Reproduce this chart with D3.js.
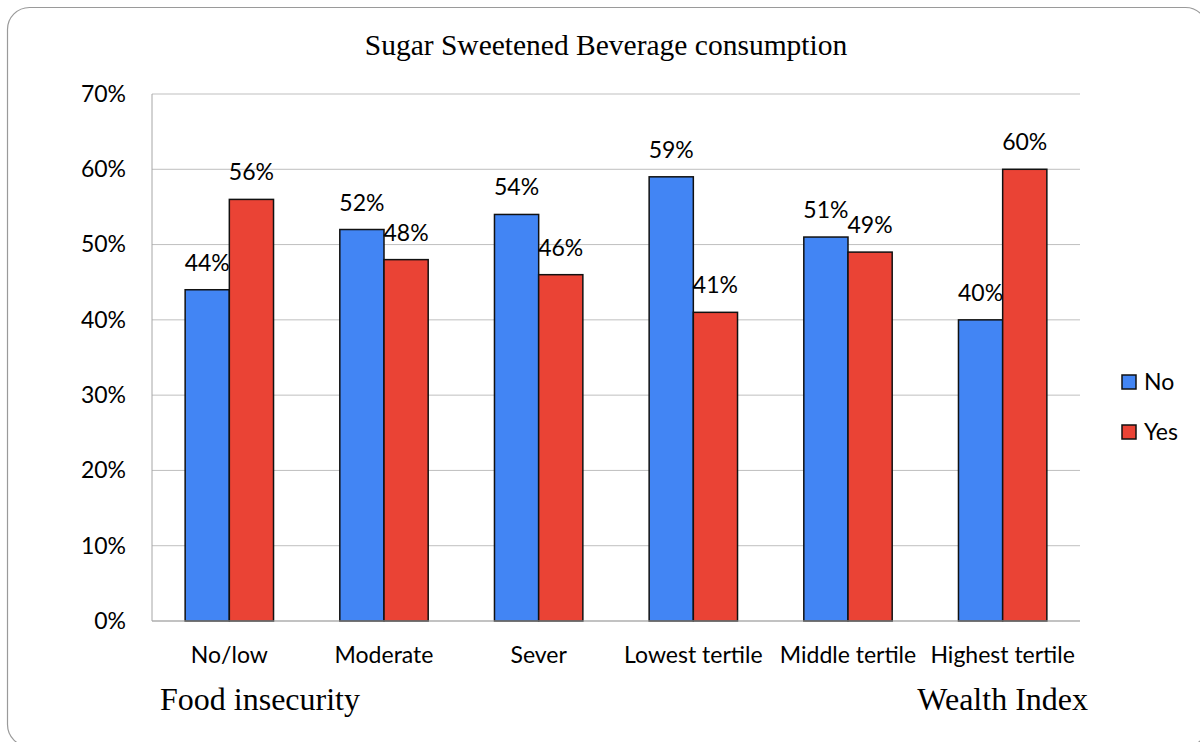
<!DOCTYPE html>
<html>
<head>
<meta charset="utf-8">
<script src="https://cdn.jsdelivr.net/npm/d3@7"></script>
<style>
  html, body { margin: 0; padding: 0; background: #fff; }
  svg { display: block; }
</style>
</head>
<body>
<svg id="chart" width="1200" height="742"></svg>
<script>
// Sugar sweetened beverage consumption by food insecurity and wealth index
const categories = ["No/low", "Moderate", "Sever", "Lowest tertile", "Middle tertile", "Highest tertile"];
const seriesNames = ["No", "Yes"];
const noValues = [44, 52, 54, 59, 51, 40];
const yesValues = [56, 48, 46, 41, 49, 60];
const yTicks = [0, 10, 20, 30, 40, 50, 60, 70];
const colors = { No: "#4285f4", Yes: "#ea4335" };

const labelFont = "Lato, 'Open Sans', sans-serif";
const serifFont = "'Liberation Serif', 'Times New Roman', serif";
const labelSize = 23;

const svg = d3.select("#chart");
const margin = { left: 152, right: 1080, top: 94, bottom: 621 };

// outer frame (extends past the lower right of the page)
svg.append("rect")
  .attr("x", 7.5).attr("y", 7.5)
  .attr("width", 1200).attr("height", 739)
  .attr("rx", 22).attr("ry", 22)
  .attr("fill", "#fff")
  .attr("stroke", "#9a9a9a").attr("stroke-width", 1.2);

const x = d3.scaleBand().domain(categories).range([margin.left, margin.right]).paddingInner(0).paddingOuter(0);
const y = d3.scaleLinear().domain([0, 70]).range([margin.bottom, margin.top]);
const inner = d3.scaleBand().domain(seriesNames).range([0, x.bandwidth()]).paddingInner(0).paddingOuter(0.75);

// gridlines
svg.append("g").selectAll("line").data(yTicks).join("line")
  .attr("x1", margin.left).attr("x2", margin.right)
  .attr("y1", d => y(d)).attr("y2", d => y(d))
  .attr("stroke", "#bfbfbf").attr("stroke-width", 1);

// left axis line
svg.append("line")
  .attr("x1", margin.left).attr("x2", margin.left)
  .attr("y1", y(70)).attr("y2", y(0))
  .attr("stroke", "#a6a6a6").attr("stroke-width", 1);

// y tick labels
const yAxis = d3.axisLeft(y).tickValues(yTicks).tickFormat(d => d + "%").tickSize(0).tickPadding(26);
const yg = svg.append("g").attr("transform", `translate(${margin.left},0)`).call(yAxis);
yg.select(".domain").remove();
yg.selectAll("text").attr("font-family", labelFont).attr("font-size", labelSize).attr("fill", "#000");

// bars
const rows = categories.map((c, i) => ({ cat: c, No: noValues[i], Yes: yesValues[i] }));
const groups = svg.append("g").selectAll("g").data(rows).join("g")
  .attr("transform", d => `translate(${x(d.cat)},0)`);

groups.selectAll("rect").data(d => seriesNames.map(s => ({ s, v: d[s] }))).join("rect")
  .attr("x", d => inner(d.s))
  .attr("y", d => y(d.v))
  .attr("width", inner.bandwidth())
  .attr("height", d => y(0) - y(d.v))
  .attr("fill", d => colors[d.s])
  .attr("stroke", "#111").attr("stroke-width", 1.5);

// value labels
groups.selectAll("text.val").data(d => seriesNames.map(s => ({ s, v: d[s] }))).join("text")
  .attr("class", "val")
  .attr("x", d => inner(d.s) + inner.bandwidth() / 2)
  .attr("y", d => y(d.v) - 19)
  .attr("text-anchor", "middle")
  .attr("font-family", labelFont).attr("font-size", labelSize).attr("fill", "#000")
  .text(d => d.v + "%");

// x axis baseline
svg.append("line")
  .attr("x1", margin.left).attr("x2", margin.right)
  .attr("y1", y(0)).attr("y2", y(0))
  .attr("stroke", "#a6a6a6").attr("stroke-width", 1.2);

// category labels
const xAxis = d3.axisBottom(x).tickSize(0).tickPadding(26);
const xg = svg.append("g").attr("transform", `translate(0,${margin.bottom})`).call(xAxis);
xg.select(".domain").remove();
xg.selectAll("text").attr("font-family", labelFont).attr("font-size", labelSize).attr("fill", "#000");

// title
svg.append("text")
  .attr("x", 606).attr("y", 55)
  .attr("text-anchor", "middle")
  .attr("font-family", serifFont).attr("font-size", 29.5).attr("fill", "#000")
  .text("Sugar Sweetened Beverage consumption");

// group captions
svg.append("text")
  .attr("x", 160).attr("y", 710)
  .attr("font-family", serifFont).attr("font-size", 32).attr("fill", "#000")
  .text("Food insecurity");
svg.append("text")
  .attr("x", 1088).attr("y", 710)
  .attr("text-anchor", "end")
  .attr("font-family", serifFont).attr("font-size", 32).attr("fill", "#000")
  .text("Wealth Index");

// legend
const legend = svg.append("g").selectAll("g").data(seriesNames).join("g")
  .attr("transform", (d, i) => `translate(1122,${375 + i * 50})`);
legend.append("rect")
  .attr("x", 0).attr("y", 0).attr("width", 14).attr("height", 14)
  .attr("fill", d => colors[d]).attr("stroke", "#111").attr("stroke-width", 1.5);
legend.append("text")
  .attr("x", 22).attr("y", 15)
  .attr("font-family", labelFont).attr("font-size", labelSize).attr("fill", "#000")
  .text(d => d);
</script>
</body>
</html>
